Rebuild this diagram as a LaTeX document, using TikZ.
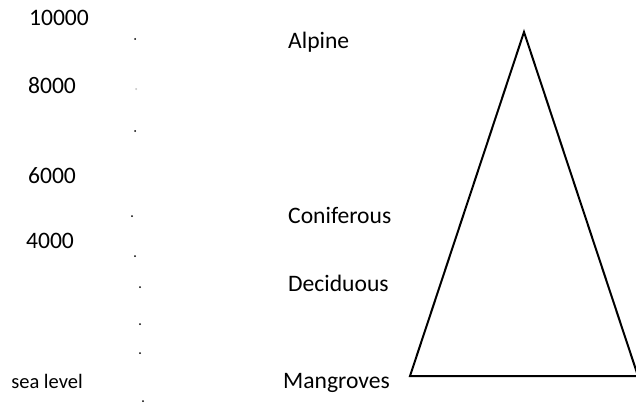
\documentclass[tikz,border=0pt]{standalone}
\usepackage{fontspec}
\setmainfont{Carlito}
\begin{document}
\begin{tikzpicture}[x=1pt,y=-1pt,
  lbl/.style={inner sep=0pt,font=\fontsize{23.6}{26}\selectfont},
  small/.style={inner sep=0pt,font=\fontsize{20.5}{23}\selectfont},
  dot/.style={fill=black,draw=none,circle,inner sep=0pt,minimum size=2pt},
  fdot/.style={fill=black!25,draw=none,circle,inner sep=0pt,minimum size=2pt}]
\fill[white] (0,0) rectangle (636,404);
\useasboundingbox (0,0) rectangle (636,404);
% altitude labels
\node[lbl] (a10) at (59,18) {10000};
\node[lbl] (a8) at (52,86) {8000};
\node[lbl] (a6) at (52,176) {6000};
\node[lbl] (a4) at (50,241) {4000};
\node[small] (sea) at (47,381) {sea level};
% dots
\node[dot] (d1) at (135,39) {};
\node[fdot] (d2) at (136,89) {};
\node[dot] (d3) at (135,131) {};
\node[dot] (d4) at (132,216) {};
\node[dot] (d5) at (135,256) {};
\node[dot] (d6) at (140,287) {};
\node[dot] (d7) at (140,324) {};
\node[dot] (d8) at (140,353) {};
\node[dot] (d9) at (143,401) {};
% zone labels
\node[lbl,anchor=west] (alp) at (288,42) {Alpine};
\node[lbl,anchor=west] (con) at (288,215) {Coniferous};
\node[lbl,anchor=west] (dec) at (288,283) {Deciduous};
\node[lbl,anchor=west] (man) at (283,383) {Mangroves};
% triangle
\coordinate (top) at (524,32);
\coordinate (bl) at (410,376);
\coordinate (br) at (638,376);
\begin{scope}
\clip (0,0) rectangle (636,404);
\draw[line width=2pt,line join=miter] (top) -- (br) -- (bl) -- cycle;
\end{scope}
\end{tikzpicture}
\end{document}
